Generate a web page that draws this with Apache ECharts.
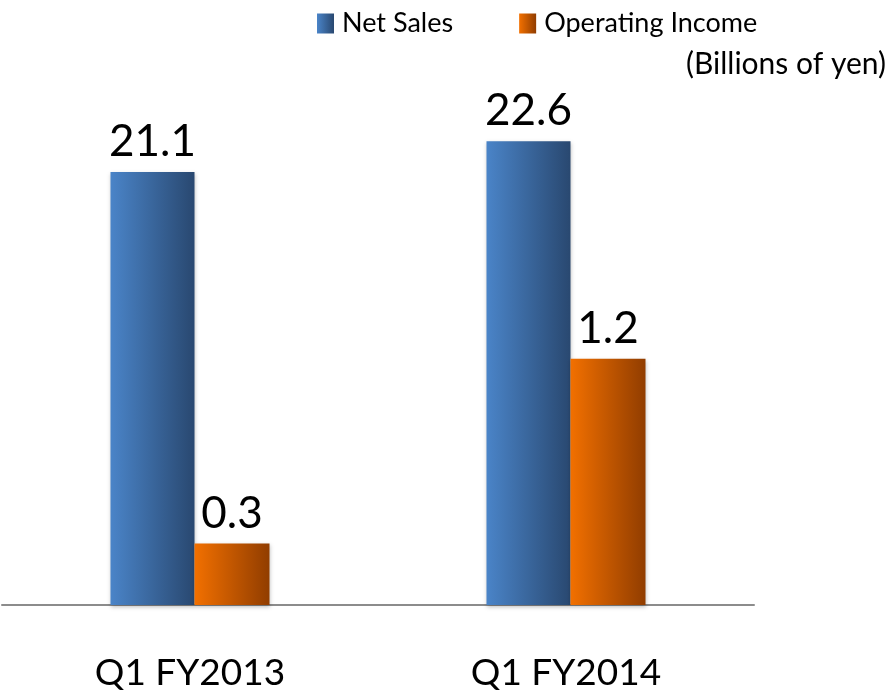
<!DOCTYPE html>
<html>
<head>
<meta charset="utf-8">
<script src="https://cdn.jsdelivr.net/npm/echarts@6/dist/echarts.min.js"></script>
<style>
  html, body { margin: 0; padding: 0; background: #fff; }
  #chart { width: 888px; height: 692px; }
</style>
</head>
<body>
<div id="chart"></div>
<script>
var categories = ['Q1 FY2013', 'Q1 FY2014'];
var netSales = [21.1, 22.6];
var operatingIncome = [0.3, 1.2];

var FONT = 'Lato';

function grad(c1, c2) {
    return new echarts.graphic.LinearGradient(0, 0, 1, 0, [
        {offset: 0, color: c1},
        {offset: 1, color: c2}
    ]);
}

var option = {
    animation: false,
    textStyle: { fontFamily: FONT },
    legend: {
        top: 5,
        left: 312,
        itemGap: 66,
        itemWidth: 17,
        itemHeight: 20,
        icon: 'rect',
        textStyle: { fontSize: 27, color: '#000', fontFamily: FONT, padding: [0, 0, 0, 3] },
        data: ['Net Sales', 'Operating Income']
    },
    graphic: [{
        type: 'text',
        right: 2,
        top: 49,
        style: { text: '(Billions of yen)', fill: '#000', font: '30px ' + FONT }
    }],
    grid: { left: 2, right: 134, top: 92, bottom: 85 },
    xAxis: {
        type: 'category',
        data: categories,
        axisLine: { lineStyle: { color: '#8c8c8c', width: 2 } },
        axisTick: { show: false },
        axisLabel: { fontSize: 37, color: '#000', margin: 50, fontFamily: FONT }
    },
    yAxis: [
        { type: 'value', min: 0, max: 25, show: false },
        { type: 'value', min: 0, max: 2.5, show: false }
    ],
    series: [
        {
            name: 'Net Sales',
            type: 'bar',
            yAxisIndex: 0,
            barWidth: 84,
            barGap: '0%',
            itemStyle: {
                color: grad('#4a84c8', '#294870'),
                shadowColor: 'rgba(0,0,0,0.25)', shadowBlur: 4, shadowOffsetY: 2
            },
            label: { show: true, position: 'top', distance: 8, fontSize: 44, color: '#000', fontFamily: FONT },
            data: netSales
        },
        {
            name: 'Operating Income',
            type: 'bar',
            yAxisIndex: 1,
            barWidth: 75,
            barGap: '0%',
            itemStyle: {
                color: grad('#f27000', '#913d00'),
                shadowColor: 'rgba(0,0,0,0.25)', shadowBlur: 4, shadowOffsetY: 2
            },
            label: { show: true, position: 'top', distance: 8, fontSize: 44, color: '#000', fontFamily: FONT },
            data: operatingIncome
        }
    ]
};

var myChart = echarts.init(document.getElementById('chart'));
myChart.setOption(option);
</script>
</body>
</html>
